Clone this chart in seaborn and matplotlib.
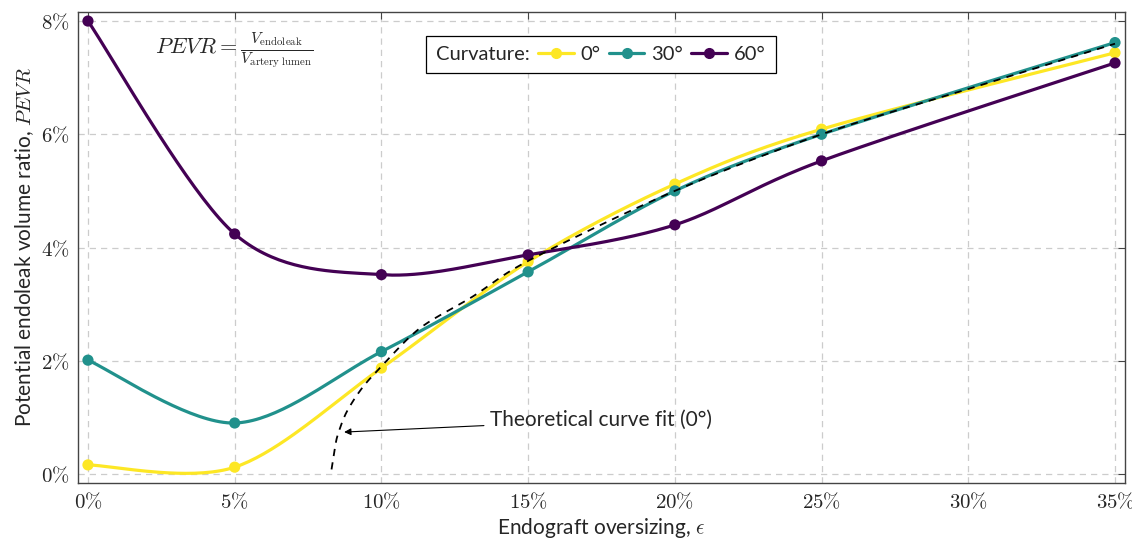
import numpy as np
import matplotlib
matplotlib.use("Agg")
import matplotlib.pyplot as plt
from matplotlib.lines import Line2D
import seaborn as sns

# data (oversizing in %, PEVR in %)
oversizing = [0, 5, 10, 15, 20, 25, 35]
pevr_0 = [0.16, 0.12, 1.87, 3.75, 5.12, 6.09, 7.44]
pevr_30 = [2.01, 0.90, 2.16, 3.57, 5.00, 6.00, 7.62]
pevr_60 = [8.00, 4.24, 3.52, 3.87, 4.40, 5.53, 7.26]
curvature_labels = ["0°", "30°", "60°"]

fit_x = [8.30, 8.42, 8.53, 8.82, 9.33, 9.95, 11.3, 13.1, 15.06, 20, 25, 30, 35]
fit_y = [0.08, 0.48, 0.72, 1.10, 1.51, 1.87, 2.57, 3.13, 3.78, 5.00, 6.00, 6.80, 7.60]

colors = ["#fde725", "#21918c", "#440154"]


def smooth(xs, ys, k=0.155, n=40):
  # cubic bezier through the points, like tikz "smooth"
  P = np.column_stack([xs, ys]).astype(float)
  out = []
  t = np.linspace(0, 1, n)[:, None]
  for i in range(len(P) - 1):
    p0, p3 = P[i], P[i + 1]
    prev = P[i - 1] if i > 0 else P[i]
    nxt = P[i + 2] if i + 2 < len(P) else P[i + 1]
    c1 = p0 + k * (p3 - prev)
    c2 = p3 - k * (nxt - p0)
    seg = (1 - t) ** 3 * p0 + 3 * (1 - t) ** 2 * t * c1 + 3 * (1 - t) * t ** 2 * c2 + t ** 3 * p3
    out.append(seg if i == 0 else seg[1:])
  return np.vstack(out)


sns.set_style("white")
plt.rcParams["mathtext.fontset"] = "cm"
plt.rcParams["font.family"] = ["Lato", "DejaVu Sans"]

fig = plt.figure(figsize=(11.32, 5.38), dpi=100)
ax = fig.add_axes([0.0689, 0.1022, 0.9249, 0.8755])

for ys, c in zip([pevr_0, pevr_30, pevr_60], colors):
  s = smooth(oversizing, ys)
  sns.lineplot(x=s[:, 0], y=s[:, 1], sort=False, estimator=None, color=c,
               linewidth=2.3, ax=ax, zorder=3)
  sns.scatterplot(x=oversizing, y=ys, color=c, s=65, edgecolor="none",
                  ax=ax, zorder=4)

f = smooth(fit_x, fit_y)
sns.lineplot(x=f[:, 0], y=f[:, 1], sort=False, estimator=None, color="black",
             linewidth=1.3, linestyle=(0, (4, 3.5)), ax=ax, zorder=5)

ax.set_xlim(-0.34, 35.34)
ax.set_ylim(-0.16, 8.16)
ax.set_xticks(range(0, 36, 5))
ax.set_xticklabels([r"$%d\%%$" % v for v in range(0, 36, 5)], fontsize=15)
ax.set_yticks(range(0, 9, 2))
ax.set_yticklabels([r"$%d\%%$" % v for v in range(0, 9, 2)], fontsize=15)
ax.tick_params(direction="in", length=5, width=0.8, color="#444444",
               top=True, right=True, pad=6)
ax.grid(True, color="#cccccc", linestyle=(0, (5, 4)), linewidth=0.9)
for sp in ax.spines.values():
  sp.set_color("#444444")
  sp.set_linewidth(1.0)

ax.set_xlabel(r"Endograft oversizing, $\epsilon$", fontsize=15, labelpad=3)
ax.set_ylabel(r"Potential endoleak volume ratio, $PEVR$", fontsize=15, labelpad=4)

ax.text(5.0, 7.48,
        r"$PEVR = \frac{V_{\mathrm{endoleak}}}{V_{\mathrm{artery\ lumen}}}$",
        fontsize=16, ha="center", va="center")

ax.annotate("Theoretical curve fit (0°)", xy=(8.73, 0.74), xytext=(13.7, 0.95),
            fontsize=15, ha="left", va="center",
            arrowprops=dict(arrowstyle="-|>", lw=0.8, color="black",
                            mutation_scale=10, shrinkA=2, shrinkB=0))

handles = [Line2D([], [], color=c, linewidth=2.3, marker="o", markersize=7)
           for c in colors]
leg = ax.legend(handles, curvature_labels, title="Curvature:", ncol=3,
                loc="center", bbox_to_anchor=(0.4995, 0.91), fontsize=14.5,
                title_fontsize=14.5, frameon=True, fancybox=False,
                edgecolor="black", framealpha=1, handlelength=1.75,
                handletextpad=0.35, columnspacing=0.35, borderpad=0.5)
leg.get_frame().set_linewidth(0.9)
# put the title on the same row as the entries
box = leg.get_children()[0]
title_box, hpack = box.get_children()[0], box.get_children()[1]
box._children = [hpack]
hpack._children = [title_box] + hpack.get_children()
hpack.sep = 6

fig.savefig("out.png", dpi=100)
